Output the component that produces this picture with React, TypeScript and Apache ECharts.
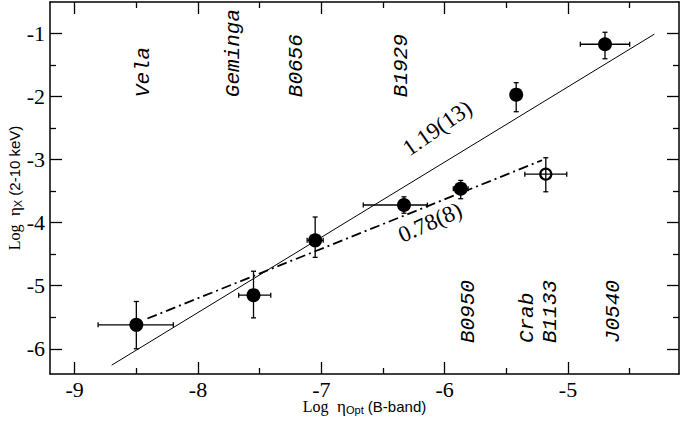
import React, { useEffect, useRef } from "react";
import * as echarts from "echarts";

// ---- data ----
const pulsarNames = ["Vela", "Geminga", "B0656", "B1929", "B0950", "Crab", "B1133", "J0540"];
const logEtaOpt = [-8.5, -7.55, -7.05, -6.33, -5.87, -5.42, -5.18, -4.7];
const logEtaX = [-5.62, -5.15, -4.28, -3.72, -3.46, -1.97, -3.23, -1.17];
const optErrMinus = [0.31, 0.12, 0.065, 0.33, 0.06, 0, 0.17, 0.2];
const optErrPlus = [0.3, 0.14, 0.065, 0.19, 0.06, 0, 0.17, 0.2];
const xrayErrMinus = [0.38, 0.36, 0.27, 0.13, 0.16, 0.27, 0.28, 0.23];
const xrayErrPlus = [0.37, 0.38, 0.37, 0.13, 0.13, 0.19, 0.26, 0.19];
const isOpen = [false, false, false, false, false, false, true, false];

// pulsar name annotations (data coords of text start)
const nameLabelX = [-8.44, -7.71, -7.2, -6.35, -5.81, -5.33, -5.14, -4.63];
const nameLabelY = [-2.01, -2.01, -2.01, -2.01, -5.91, -5.91, -5.91, -5.91];

// fitted lines
const fitSteepX = [-8.7, -4.3];
const fitSteepY = [-6.26, -1.01];
const fitFlatX = [-8.41, -5.21];
const fitFlatY = [-5.52, -3.01];
const fitLabels = ["1.19(13)", "0.78(8)"];
const fitLabelX = [-6.06, -6.12];
const fitLabelY = [-2.5, -3.99];
const fitLabelAngle = [35, 24];

// axes
const xMin = -9.2, xMax = -4.1;
const yMin = -6.4, yMax = -0.5;
const xMajor = [-9, -8, -7, -6, -5];
const xMinor = [-8.5, -7.5, -6.5, -5.5, -4.5];
const yMajor = [-6, -5, -4, -3, -2, -1];
const yMinor = [-5.5, -4.5, -3.5, -2.5, -1.5];

const SERIF = "'Liberation Serif', 'Times New Roman', 'DejaVu Serif', serif";
const SANS = "'Liberation Sans', Arial, Helvetica, sans-serif";
const MONO = "'Liberation Mono', 'Courier New', 'DejaVu Sans Mono', monospace";

export default function App() {
  const ref = useRef<HTMLDivElement>(null);

  useEffect(() => {
    document.body.style.margin = "0";
    if (!ref.current) return;
    const chart = echarts.init(ref.current, undefined, { renderer: "svg" });

    const axisLine = { show: true, lineStyle: { color: "#000", width: 1.5 } };
    const noLine = { show: false };
    const majorTick = (vals: number[]) => ({
      show: true, inside: true, length: 12, customValues: vals,
      lineStyle: { color: "#000", width: 1.3 },
    });
    const minorTick = (vals: number[]) => ({
      show: true, inside: true, length: 6, customValues: vals,
      lineStyle: { color: "#000", width: 1.3 },
    });
    const tickLabel = (vals: number[], margin: number) => ({
      show: true, customValues: vals, margin,
      fontFamily: SERIF, fontSize: 22, color: "#000", lineHeight: 16,
      formatter: (v: number) => "{t|" + String(v) + "}",
      rich: { t: { fontFamily: SERIF, fontSize: 22, color: "#000", lineHeight: 16 } },
    });

    const nameRich = {
      a: { fontFamily: SERIF, fontSize: 16, color: "#000" },
      e: { fontFamily: SERIF, fontSize: 17, color: "#000" },
      s: { fontFamily: SANS, fontSize: 11, color: "#000", verticalAlign: "bottom", lineHeight: 11 },
      c: { fontFamily: SANS, fontSize: 15, color: "#000" },
    };

    const baseX = { type: "value", min: xMin, max: xMax, splitLine: { show: false }, gridIndex: 0 };
    const baseY = { type: "value", min: yMin, max: yMax, splitLine: { show: false }, gridIndex: 0 };

    const errData = logEtaOpt.map((x, i) => [
      x, logEtaX[i],
      x - optErrMinus[i], x + optErrPlus[i],
      logEtaX[i] - xrayErrMinus[i], logEtaX[i] + xrayErrPlus[i],
    ]);
    const filled = logEtaOpt.map((x, i) => [x, logEtaX[i]]).filter((_, i) => !isOpen[i]);
    const open = logEtaOpt.map((x, i) => [x, logEtaX[i]]).filter((_, i) => isOpen[i]);

    const option: any = {
      animation: false,
      backgroundColor: "#fff",
      textStyle: { fontFamily: SERIF },
      grid: { left: 50, right: 2, top: 2, bottom: 49, containLabel: false, outerBoundsMode: "none" },
      xAxis: [
        {
          ...baseX, position: "bottom", axisLine, axisTick: majorTick(xMajor),
          axisLabel: tickLabel(xMajor, 7),
          name: "{a|Log}{e|  η}{s|Opt}{c| (B-band)}",
          nameLocation: "middle", nameGap: 24, nameMoveOverlap: false,
          nameTextStyle: { rich: nameRich, verticalAlign: "top" },
        },
        { ...baseX, position: "top", axisLine, axisTick: majorTick(xMajor), axisLabel: { show: false } },
        { ...baseX, position: "bottom", axisLine: noLine, axisTick: minorTick(xMinor), axisLabel: { show: false } },
        { ...baseX, position: "top", axisLine: noLine, axisTick: minorTick(xMinor), axisLabel: { show: false } },
      ],
      yAxis: [
        {
          ...baseY, position: "left", axisLine, axisTick: majorTick(yMajor),
          axisLabel: tickLabel(yMajor, 5),
          name: "{a|Log}{e|  η}{s|X}{c| (2-10 keV)}",
          nameLocation: "middle", nameGap: 27, nameRotate: 90, nameMoveOverlap: false,
          nameTextStyle: { rich: nameRich },
        },
        { ...baseY, position: "right", axisLine, axisTick: majorTick(yMajor), axisLabel: { show: false } },
        { ...baseY, position: "left", axisLine: noLine, axisTick: minorTick(yMinor), axisLabel: { show: false } },
        { ...baseY, position: "right", axisLine: noLine, axisTick: minorTick(yMinor), axisLabel: { show: false } },
      ],
      series: [
        {
          type: "line", data: fitSteepX.map((x, i) => [x, fitSteepY[i]]),
          showSymbol: false, symbol: "none", lineStyle: { color: "#000", width: 1 }, z: 2,
        },
        {
          type: "line", data: fitFlatX.map((x, i) => [x, fitFlatY[i]]),
          showSymbol: false, symbol: "none",
          lineStyle: { color: "#000", width: 1.8, type: [10, 4, 2, 4] }, z: 2,
        },
        {
          type: "custom", data: errData, encode: { x: 0, y: 1 }, z: 3,
          renderItem: (params: any, api: any) => {
            const x = api.value(0), y = api.value(1);
            const xl = api.value(2), xh = api.value(3), yl = api.value(4), yh = api.value(5);
            const pl = api.coord([xl, y]), ph = api.coord([xh, y]);
            const pb = api.coord([x, yl]), pt = api.coord([x, yh]);
            const cap = 2.5;
            const style = { stroke: "#000", lineWidth: 1.3 };
            const ln = (x1: number, y1: number, x2: number, y2: number) => ({
              type: "line", shape: { x1, y1, x2, y2 }, style,
            });
            const children: any[] = [];
            if (xh > xl) {
              children.push(ln(pl[0], pl[1], ph[0], ph[1]));
              children.push(ln(pl[0], pl[1] - cap, pl[0], pl[1] + cap));
              children.push(ln(ph[0], ph[1] - cap, ph[0], ph[1] + cap));
            }
            children.push(ln(pb[0], pb[1], pt[0], pt[1]));
            children.push(ln(pb[0] - cap, pb[1], pb[0] + cap, pb[1]));
            children.push(ln(pt[0] - cap, pt[1], pt[0] + cap, pt[1]));
            return { type: "group", children };
          },
        },
        {
          type: "scatter", data: filled, symbol: "circle", symbolSize: 14,
          itemStyle: { color: "#000", opacity: 1 }, z: 4,
        },
        {
          type: "scatter", data: open, symbol: "circle", symbolSize: 11,
          itemStyle: { color: "rgba(0,0,0,0)", borderColor: "#000", borderWidth: 2.2, opacity: 1 }, z: 4,
        },
        {
          type: "scatter", silent: true, symbolSize: 0, z: 5,
          itemStyle: { opacity: 1 },
          data: pulsarNames.map((n, i) => ({ value: [nameLabelX[i], nameLabelY[i]], name: n })),
          label: {
            show: true, formatter: "{b}", position: "inside", rotate: 90,
            align: "left", verticalAlign: "middle",
            fontFamily: MONO, fontStyle: "italic", fontSize: 21, color: "#000",
          },
        },
        ...fitLabels.map((t, i) => ({
          type: "scatter", silent: true, symbolSize: 0, z: 5,
          itemStyle: { opacity: 1 },
          data: [{ value: [fitLabelX[i], fitLabelY[i]], name: t }],
          label: {
            show: true, formatter: "{b}", position: "inside", rotate: fitLabelAngle[i],
            align: "center", verticalAlign: "middle",
            fontFamily: SERIF, fontSize: 23, color: "#000",
          },
        })),
      ],
    };
    chart.setOption(option);
    return () => chart.dispose();
  }, []);

  return <div ref={ref} style={{ width: 681, height: 423, position: "absolute", left: 0, top: 0 }} />;
}
